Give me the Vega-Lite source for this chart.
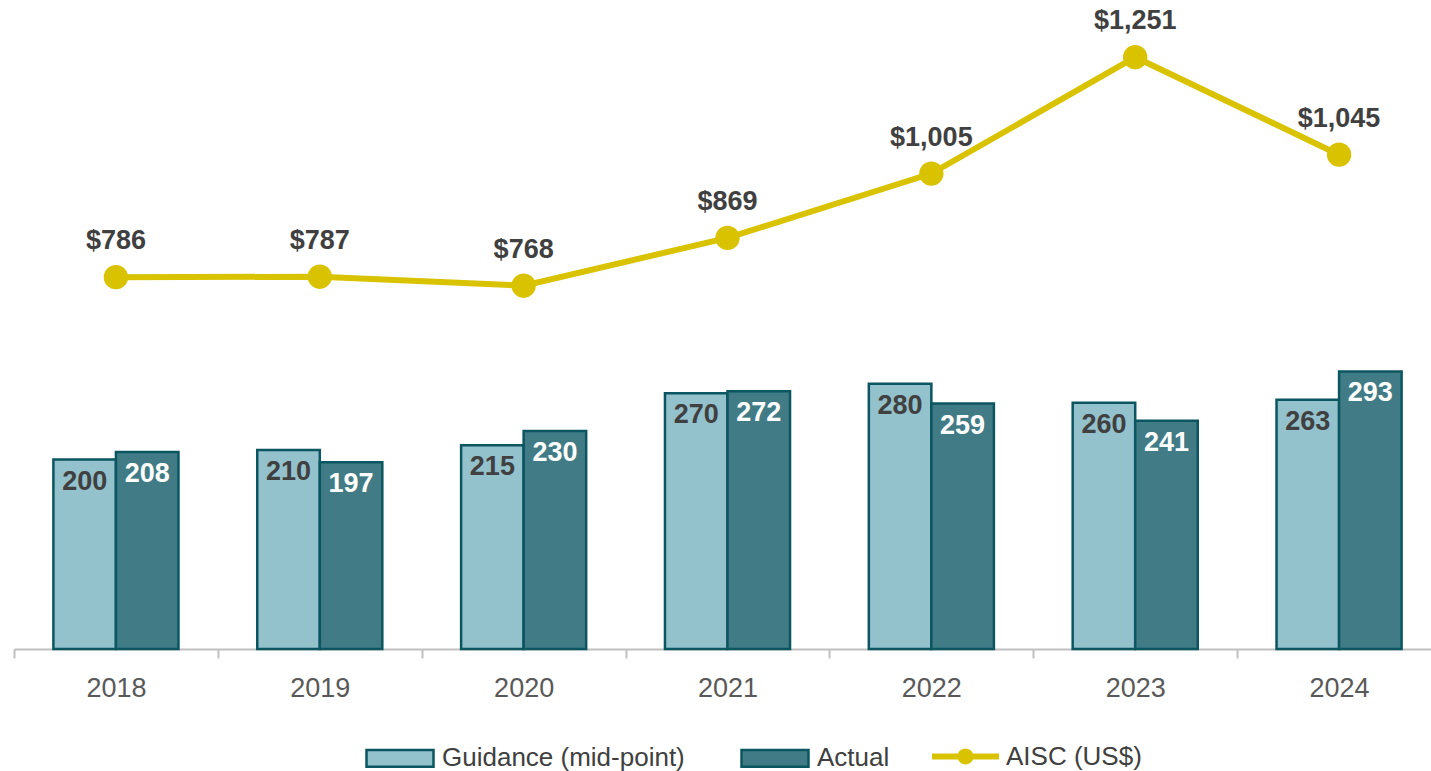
{
  "$schema": "https://vega.github.io/schema/vega-lite/v6.json",
  "width": 1427,
  "height": 649,
  "autosize": {"type": "none"},
  "padding": {"left": 14, "top": 0, "right": 0, "bottom": 122},
  "background": "white",
  "config": {"view": {"stroke": null}, "font": "Liberation Sans"},
  "datasets": {
    "bars": [
      {"year": "2018", "series": "Guidance (mid-point)", "value": 200},
      {"year": "2018", "series": "Actual", "value": 208},
      {"year": "2019", "series": "Guidance (mid-point)", "value": 210},
      {"year": "2019", "series": "Actual", "value": 197},
      {"year": "2020", "series": "Guidance (mid-point)", "value": 215},
      {"year": "2020", "series": "Actual", "value": 230},
      {"year": "2021", "series": "Guidance (mid-point)", "value": 270},
      {"year": "2021", "series": "Actual", "value": 272},
      {"year": "2022", "series": "Guidance (mid-point)", "value": 280},
      {"year": "2022", "series": "Actual", "value": 259},
      {"year": "2023", "series": "Guidance (mid-point)", "value": 260},
      {"year": "2023", "series": "Actual", "value": 241},
      {"year": "2024", "series": "Guidance (mid-point)", "value": 263},
      {"year": "2024", "series": "Actual", "value": 293}
    ],
    "aisc": [
      {"year": "2018", "aisc": 786},
      {"year": "2019", "aisc": 787},
      {"year": "2020", "aisc": 768},
      {"year": "2021", "aisc": 869},
      {"year": "2022", "aisc": 1005},
      {"year": "2023", "aisc": 1251},
      {"year": "2024", "aisc": 1045}
    ]
  },
  "resolve": {"scale": {"y": "independent"}},
  "layer": [
    {
      "data": {"name": "bars"},
      "layer": [
        {
          "mark": {"type": "bar", "stroke": "#0b5660", "strokeWidth": 2.5, "opacity": 1},
          "encoding": {
            "x": {
              "field": "year", "type": "nominal", "title": null,
              "scale": {"paddingInner": 0, "paddingOuter": 0},
              "axis": {
                "title": null, "labelAngle": 0, "domainColor": "#c0c0c0", "domainWidth": 2,
                "tickColor": "#c0c0c0", "tickWidth": 2, "tickSize": 9, "tickBand": "extent",
                "labelFontSize": 27, "labelColor": "#595959", "labelPadding": 17, "labelFont": "Liberation Sans"
              }
            },
            "xOffset": {
              "field": "series", "type": "nominal",
              "scale": {"domain": ["Guidance (mid-point)", "Actual"], "paddingInner": 0, "paddingOuter": 0.63}
            },
            "y": {"field": "value", "type": "quantitative", "scale": {"domain": [0, 685], "nice": false}, "axis": null},
            "fill": {
              "field": "series", "type": "nominal",
              "scale": {"domain": ["Guidance (mid-point)", "Actual"], "range": ["#93c1cc", "#417c86"]},
              "legend": {
                "orient": "none", "legendX": 351, "legendY": 723, "direction": "horizontal",
                "title": null, "symbolType": "M-1,-0.25H1V0.25H-1Z", "symbolSize": 4489,
                "symbolStrokeColor": "#0b5660", "symbolStrokeWidth": 2.5, "symbolOpacity": 1,
                "labelFontSize": 26, "labelColor": "#404040", "labelFont": "Liberation Sans",
                "labelLimit": 500, "columnPadding": 51, "labelOffset": 7, "padding": 0
              }
            }
          }
        },
        {
          "mark": {"type": "text", "baseline": "middle", "dy": 22, "fontSize": 27, "fontWeight": "bold", "font": "Liberation Sans"},
          "encoding": {
            "x": {"field": "year", "type": "nominal", "title": null},
            "xOffset": {"field": "series", "type": "nominal"},
            "y": {"field": "value", "type": "quantitative"},
            "text": {"field": "value", "type": "quantitative"},
            "color": {"condition": {"test": "datum.series === 'Actual'", "value": "white"}, "value": "#404040"}
          }
        }
      ]
    },
    {
      "data": {"name": "aisc"},
      "layer": [
        {
          "mark": {"type": "line", "strokeWidth": 6, "point": {"filled": true, "fill": "#d9c300", "size": 500, "opacity": 1}},
          "encoding": {
            "x": {"field": "year", "type": "nominal", "title": null},
            "y": {"field": "aisc", "type": "quantitative", "scale": {"domain": [0, 1372], "nice": false}, "axis": null},
            "stroke": {
              "datum": "AISC (US$)",
              "scale": {"domain": ["AISC (US$)"], "range": ["#d9c300"]},
              "legend": {
                "orient": "none", "legendX": 918, "legendY": 723, "direction": "horizontal",
                "title": null, "symbolSize": 4489,
                "symbolType": "M-1,-0.09H1V0.09H-1Z M-0.24,0A0.24,0.24 0 1,1 0.24,0A0.24,0.24 0 1,1 -0.24,0Z",
                "symbolFillColor": "#d9c300", "symbolStrokeWidth": 0, "symbolOpacity": 1,
                "labelFontSize": 26, "labelColor": "#404040", "labelFont": "Liberation Sans",
                "labelLimit": 500, "labelOffset": 7, "padding": 0,
                "encode": {"symbols": {"update": {"fill": {"value": "#d9c300"}, "strokeWidth": {"value": 0}, "opacity": {"value": 1}}}}
              }
            }
          }
        },
        {
          "mark": {"type": "text", "baseline": "middle", "dy": -36, "fontSize": 27, "fontWeight": "bold", "color": "#404040", "font": "Liberation Sans"},
          "encoding": {
            "x": {"field": "year", "type": "nominal", "title": null},
            "y": {"field": "aisc", "type": "quantitative"},
            "text": {"field": "aisc", "type": "quantitative", "format": "$,.0f"}
          }
        }
      ]
    }
  ]
}
